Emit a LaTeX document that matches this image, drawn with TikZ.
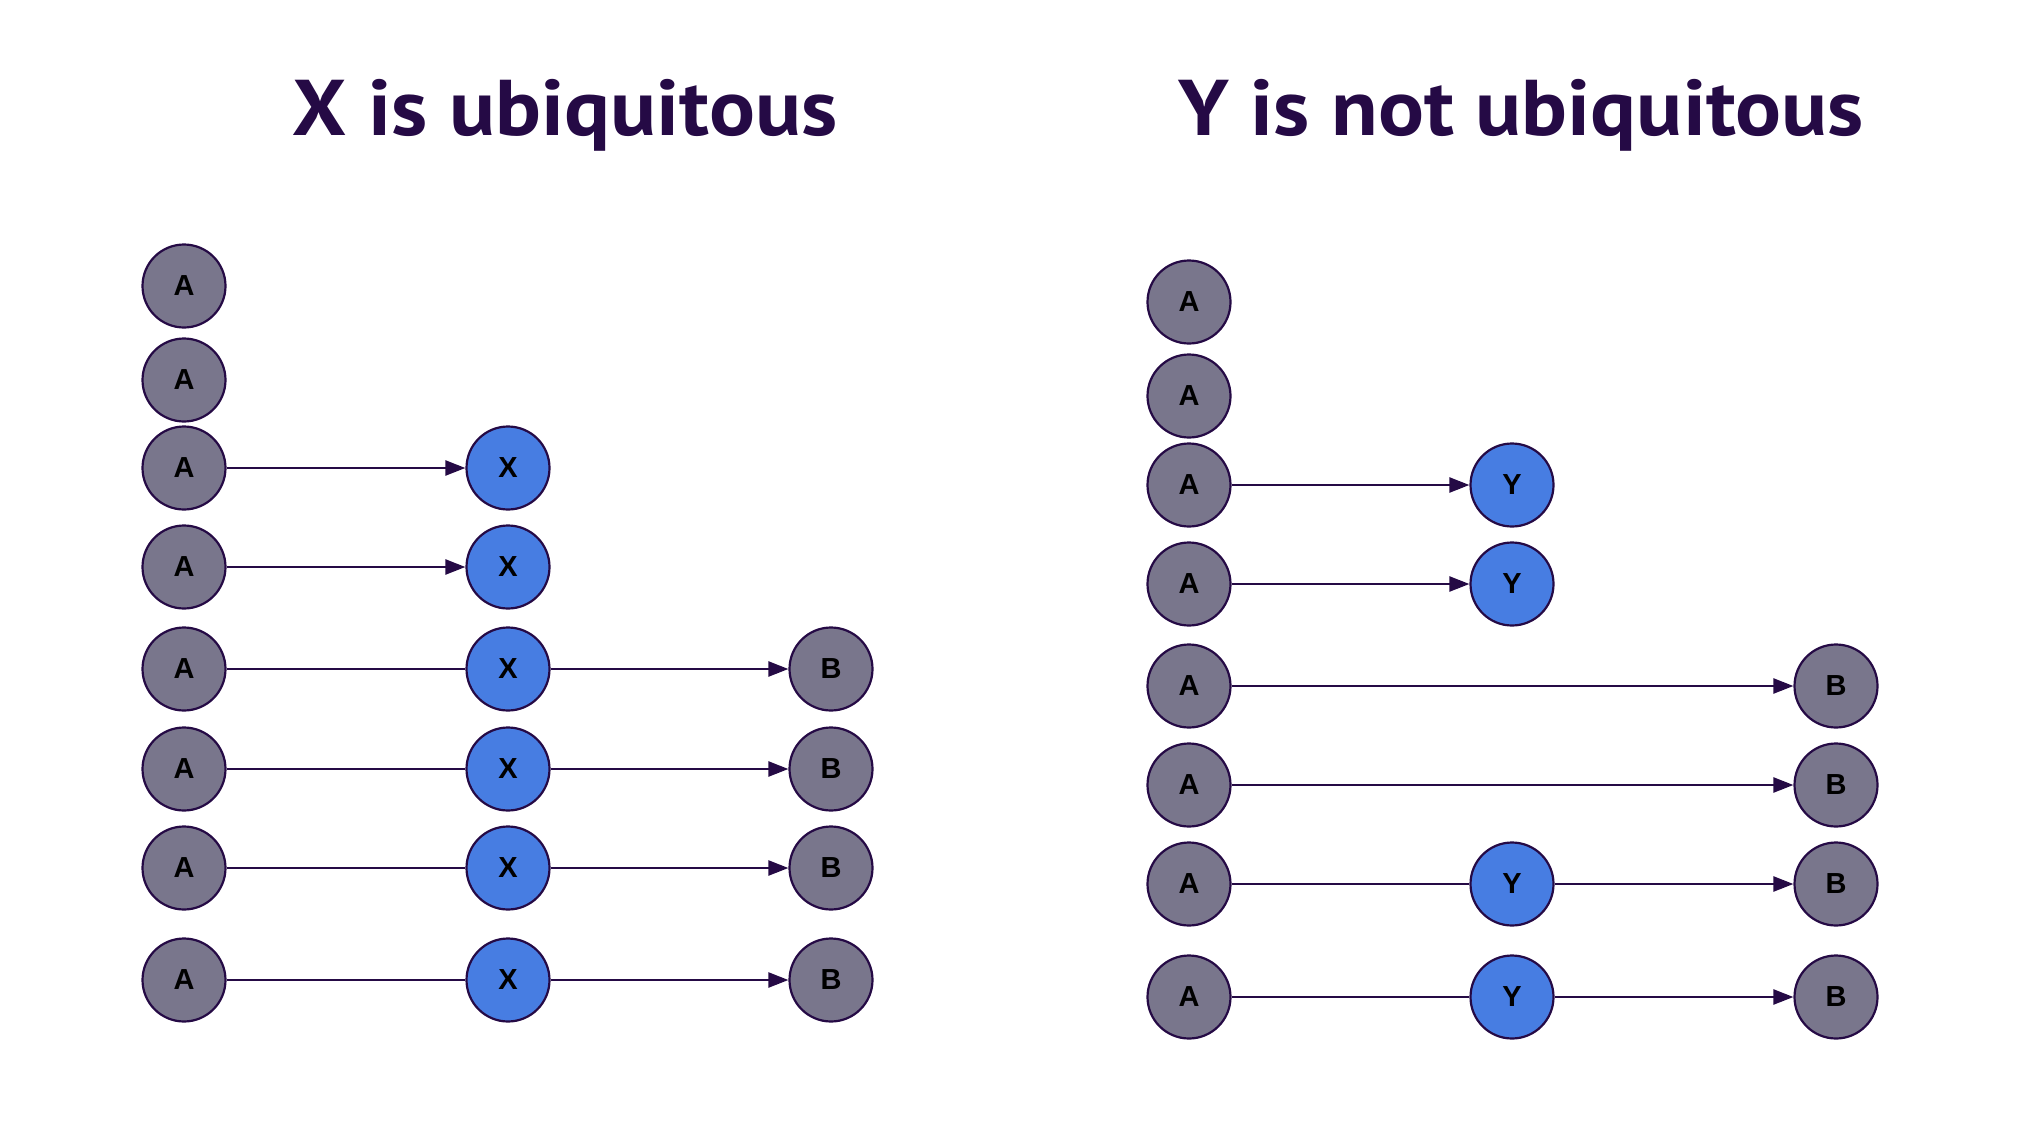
\documentclass[tikz,border=0pt]{standalone}
\usepackage{fontspec}
\setmainfont{Liberation Sans}
\newfontfamily\titlefont{PT Sans}
\usetikzlibrary{arrows.meta}
\definecolor{ink}{HTML}{250A45}
\definecolor{greyfill}{HTML}{79768C}
\definecolor{bluefill}{HTML}{477DE2}
\newcommand{\ttl}[1]{\scalebox{1.085}[1]{#1}}
\tikzset{
  basenode/.style={circle, draw=ink, line width=2.2pt, minimum size=83pt, inner sep=0pt,
    font=\fontsize{29}{31}\selectfont\bfseries, text=black},
  gnode/.style={basenode, fill=greyfill},
  bnode/.style={basenode, fill=bluefill},
  link/.style={draw=ink, line width=2.4pt},
  arrowlink/.style={link, -{Triangle[length=20pt,width=15pt]}},
  titletext/.style={font=\titlefont\fontsize{79}{80}\selectfont\bfseries, text=ink, anchor=base, inner sep=0pt}
}
\begin{document}
\begin{tikzpicture}[x=1pt,y=-1pt]
\useasboundingbox (0,0) rectangle (2019,1135);
% titles
\node[titletext] (t1) at (565,135) {\ttl{X is ubiquitous}};
\node[titletext] (t2) at (1521,135) {\ttl{Y is not ubiquitous}};
% left panel
\node[gnode] (la1) at (184,286) {A};
\node[gnode] (la2) at (184,380) {A};
\node[gnode] (la3) at (184,468) {A};
\node[bnode] (lx3) at (508,468) {X};
\node[gnode] (la4) at (184,567) {A};
\node[bnode] (lx4) at (508,567) {X};
\node[gnode] (la5) at (184,669) {A};
\node[bnode] (lx5) at (508,669) {X};
\node[gnode] (lb5) at (831,669) {B};
\node[gnode] (la6) at (184,769) {A};
\node[bnode] (lx6) at (508,769) {X};
\node[gnode] (lb6) at (831,769) {B};
\node[gnode] (la7) at (184,868) {A};
\node[bnode] (lx7) at (508,868) {X};
\node[gnode] (lb7) at (831,868) {B};
\node[gnode] (la8) at (184,980) {A};
\node[bnode] (lx8) at (508,980) {X};
\node[gnode] (lb8) at (831,980) {B};
\draw[arrowlink] (la3) -- (lx3);
\draw[arrowlink] (la4) -- (lx4);
\foreach \i in {5,6,7,8}{
  \draw[link] (la\i) -- (lx\i);
  \draw[arrowlink] (lx\i) -- (lb\i);
}
% right panel
\node[gnode] (ra1) at (1189,302) {A};
\node[gnode] (ra2) at (1189,396) {A};
\node[gnode] (ra3) at (1189,485) {A};
\node[bnode] (ry3) at (1512,485) {Y};
\node[gnode] (ra4) at (1189,584) {A};
\node[bnode] (ry4) at (1512,584) {Y};
\node[gnode] (ra5) at (1189,686) {A};
\node[gnode] (rb5) at (1836,686) {B};
\node[gnode] (ra6) at (1189,785) {A};
\node[gnode] (rb6) at (1836,785) {B};
\node[gnode] (ra7) at (1189,884) {A};
\node[bnode] (ry7) at (1512,884) {Y};
\node[gnode] (rb7) at (1836,884) {B};
\node[gnode] (ra8) at (1189,997) {A};
\node[bnode] (ry8) at (1512,997) {Y};
\node[gnode] (rb8) at (1836,997) {B};
\draw[arrowlink] (ra3) -- (ry3);
\draw[arrowlink] (ra4) -- (ry4);
\draw[arrowlink] (ra5) -- (rb5);
\draw[arrowlink] (ra6) -- (rb6);
\foreach \i in {7,8}{
  \draw[link] (ra\i) -- (ry\i);
  \draw[arrowlink] (ry\i) -- (rb\i);
}
\end{tikzpicture}
\end{document}
